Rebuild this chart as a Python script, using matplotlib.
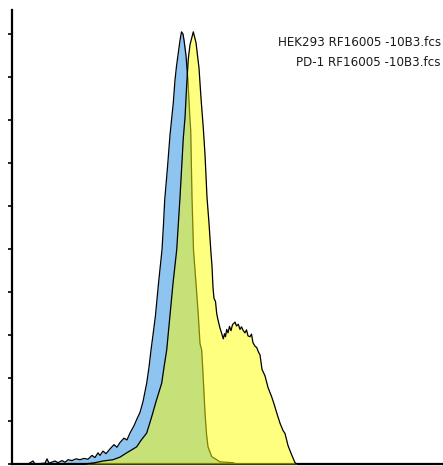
import matplotlib
matplotlib.use("Agg")
import matplotlib.pyplot as plt

# ---- data (fluorescence channel, % of max) ----
hek_channel = [28, 33, 35, 45, 47, 49, 55, 58, 62, 65, 68, 72, 76, 80, 84, 88, 92, 95, 98, 100,
               103, 106, 110, 114, 117, 120, 124, 127, 130, 134, 137, 140, 143, 146.7, 149, 151,
               153, 155.5, 158.5, 162, 163.5, 164.7, 167.5, 170, 173.3, 175, 176.5, 178.3, 180, 181.5,
               183, 184, 186, 188, 190, 190.7, 192, 193.5, 196, 198.3, 200, 201.7, 203, 205,
               206.5, 208, 211.7, 216.7, 220, 233, 236]
hek_percent = [0, 0.7, 0, 0.2, 1.2, 0.2, 0.7, 0.3, 0.8, 0.4, 1.0, 0.8, 1.2, 1.0, 1.3, 1.1, 2.0, 1.5, 2.6, 2.0,
               3.0, 2.4, 3.5, 4.5, 3.9, 5.0, 6.0, 5.6, 7.2, 8.9, 10.5, 12.0, 14.5, 18.8, 22.5, 26.5,
               30.0, 34.6, 42.0, 49.8, 55.8, 61.4, 69.0, 76.5, 84.0, 89.3, 92.5, 95.6, 98.5, 100.5,
               100.0, 98.6, 95.0, 89.0, 80.0, 77.7, 62.0, 49.8, 42.0, 34.6, 28.0, 26.5, 21.0, 11.9,
               7.0, 4.0, 1.7, 1.0, 0.5, 0.3, 0]

pd1_channel = [85, 95, 103, 113, 120, 126.7, 131, 136.7, 141, 146.7, 151.7, 156, 161.7, 164, 166.7,
               170, 173, 176.7, 180, 183.3, 185, 186.7, 188.3, 190, 193.3,
               196, 199, 201, 203.3, 205, 207, 209, 211, 212, 213, 214, 215.5, 216.7, 218, 220,
               221.5, 223.3, 224.5, 225.5, 226.7, 228, 229.5, 231, 232.5, 235, 236.5, 238.3, 240,
               241.5, 243.3, 245, 246.5, 248, 250, 251.5, 253, 255, 256.7, 258.5, 260, 262, 265,
               268, 271.7, 274, 276.7, 280, 283, 285, 288, 291, 295, 297]
pd1_percent = [0, 0.3, 0.7, 1.0, 1.6, 2.6, 3.2, 4.0, 5.5, 7.2, 11.0, 14.5, 18.8, 22.5, 26.5,
               34.6, 42.0, 49.8, 62.0, 75.8, 80.5, 88.2, 94.2, 97.5, 100.5,
               98.0, 92.1, 85.1, 78.1, 72.0, 62.0, 56.0, 49.0, 46.0, 41.0, 38.5, 37.8, 35.0, 33.5, 31.6,
               30.5, 29.1, 30.3, 29.6, 31.3, 30.5, 32.0, 31.0, 32.4, 33.0, 32.1, 32.5, 31.3,
               31.9, 31.0, 30.5, 31.2, 29.8, 29.6, 30.2, 28.2, 27.4, 27.1, 26.0, 25.4, 22.0, 20.5,
               17.8, 15.6, 14.0, 11.9, 9.5, 7.8, 7.1, 4.3, 2.5, 0.3, 0]

legend_labels = ["HEK293 RF16005 -10B3.fcs", "PD-1 RF16005 -10B3.fcs"]
y_ticks = list(range(0, 101, 10))

W, H = 443, 466
fig = plt.figure(figsize=(W / 100, H / 100), dpi=100)
fig.patch.set_facecolor("white")
ax = fig.add_axes([12 / W, 2 / H, (W - 12) / W, (464 - 10) / H])

ax.fill_between(hek_channel, hek_percent, 0, color="#8ec4f0", linewidth=0, zorder=1)
ax.plot(hek_channel, hek_percent, color="black", linewidth=0.9, zorder=2)
ax.fill_between(pd1_channel, pd1_percent, 0, color="#ffff00", alpha=0.5, linewidth=0, zorder=3)
ax.plot(pd1_channel, pd1_percent, color="black", linewidth=0.9, zorder=4)

ax.set_xlim(12, 443)
ax.set_ylim(0, (464 - 10) / 4.3)
ax.set_yticks(y_ticks)
ax.set_yticklabels([])
ax.set_xticks([])
ax.tick_params(axis="y", direction="out", length=3.2, width=1.2, color="black")
for s in ["top", "right"]:
    ax.spines[s].set_visible(False)
for s in ["left", "bottom"]:
    ax.spines[s].set_linewidth(1.6)
    ax.spines[s].set_color("black")

ax.text(0.995, 1 - (43 - 10) / (464 - 10), legend_labels[0], transform=ax.transAxes,
        ha="right", va="center", fontsize=8.6, color="#1a1a1a", family="DejaVu Sans")
ax.text(0.995, 1 - (62.5 - 10) / (464 - 10), legend_labels[1], transform=ax.transAxes,
        ha="right", va="center", fontsize=8.6, color="#1a1a1a", family="DejaVu Sans")

fig.savefig("out.png", dpi=100, facecolor="white")
